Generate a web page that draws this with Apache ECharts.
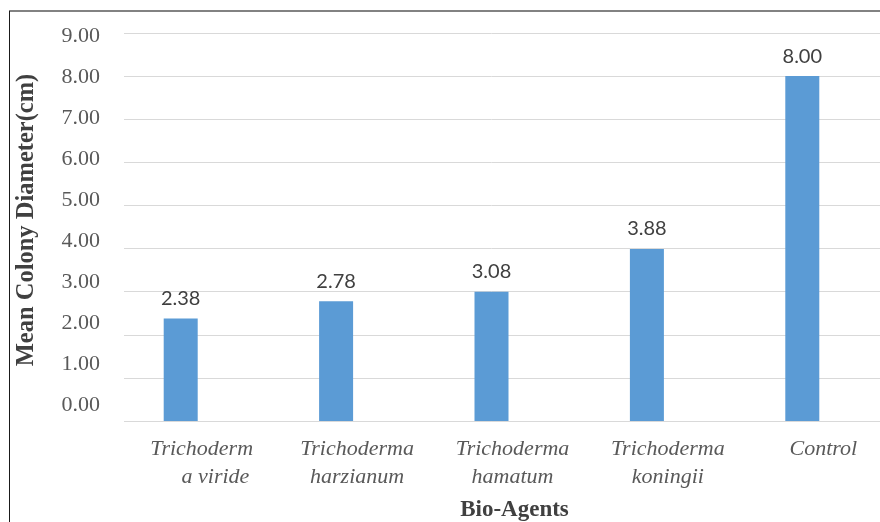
<!DOCTYPE html>
<html>
<head>
<meta charset="utf-8">
<script src="https://cdn.jsdelivr.net/npm/echarts@6/dist/echarts.min.js"></script>
<style>
  html, body { margin: 0; padding: 0; background: #fff; }
  #chart { width: 880px; height: 522px; }
</style>
</head>
<body>
<div id="chart"></div>
<script>
// categories (line breaks as in the original axis)
var agents = [
  "Trichoderm\n     a viride",
  "Trichoderma\nharzianum",
  "Trichoderma\nhamatum",
  "Trichoderma\nkoningii",
  "Control"
];
// bar heights as drawn
var diameter = [2.38, 2.78, 3.0, 3.99, 8.0];
// printed data labels
var diameterLabels = ["2.38", "2.78", "3.08", "3.88", "8.00"];
var yTicks = [0, 1, 2, 3, 4, 5, 6, 7, 8, 9];

var serif = "Liberation Serif";

var myChart = echarts.init(document.getElementById("chart"));
myChart.setOption({
  backgroundColor: "#ffffff",
  animation: false,
  grid: [
    // plot area
    { left: 103, right: 0, top: 33, height: 388, outerBoundsMode: "none" },
    // the tick labels in the original sit on a slightly tighter scale
    { left: 103, right: 0, top: 36, height: 369, outerBoundsMode: "none" }
  ],
  xAxis: [
    {
      type: "category",
      data: agents,
      name: "Bio-Agents",
      nameLocation: "middle",
      nameGap: 78,
      nameTextStyle: {
        fontFamily: serif,
        fontWeight: "bold",
        fontSize: 23,
        color: "#404040",
        padding: [0, 0, 0, 46]
      },
      axisTick: { show: false },
      axisLine: { lineStyle: { color: "#d9d9d9", width: 1 } },
      axisLabel: {
        interval: 0,
        margin: 14,
        lineHeight: 28,
        fontFamily: serif,
        fontStyle: "italic",
        fontSize: 22,
        color: "#595959",
        padding: [0, 0, 0, 42]
      }
    },
    { type: "value", gridIndex: 1, show: false }
  ],
  yAxis: [
    {
      type: "value",
      min: yTicks[0],
      max: yTicks[yTicks.length - 1],
      interval: 1,
      name: "Mean Colony Diameter(cm)",
      nameLocation: "middle",
      nameGap: 64,
      nameTextStyle: {
        fontFamily: serif,
        fontWeight: "bold",
        fontSize: 24.5,
        color: "#404040",
        padding: [0, 0, 0, 14]
      },
      axisLine: { show: false },
      axisTick: { show: false },
      axisLabel: { show: false },
      splitLine: { lineStyle: { color: "#d9d9d9", width: 1 } }
    },
    {
      type: "value",
      gridIndex: 1,
      min: yTicks[0],
      max: yTicks[yTicks.length - 1],
      interval: 1,
      axisLine: { show: false },
      axisTick: { show: false },
      splitLine: { show: false },
      axisLabel: {
        margin: 3,
        fontFamily: serif,
        fontSize: 22,
        color: "#595959",
        formatter: function (v) { return v.toFixed(2); }
      }
    }
  ],
  series: [
    {
      type: "bar",
      data: diameter,
      barWidth: 34,
      itemStyle: { color: "#5b9bd5" },
      label: {
        show: true,
        position: "top",
        distance: 10,
        fontFamily: "Lato",
        fontSize: 20,
        color: "#404040",
        formatter: function (p) { return diameterLabels[p.dataIndex]; }
      }
    }
  ],
  graphic: [
    // gridlines start right of the category band in the original
    {
      type: "rect",
      z: 1,
      shape: { x: 102, y: 26, width: 22, height: 398 },
      style: { fill: "#ffffff" }
    },
    // frame of the cropped picture
    {
      type: "line",
      shape: { x1: 9, y1: 11, x2: 880, y2: 11 },
      style: { stroke: "#595959", lineWidth: 1.5 }
    },
    {
      type: "line",
      shape: { x1: 9.5, y1: 11, x2: 9.5, y2: 522 },
      style: { stroke: "#1a1a1a", lineWidth: 1 }
    }
  ]
});
</script>
</body>
</html>
